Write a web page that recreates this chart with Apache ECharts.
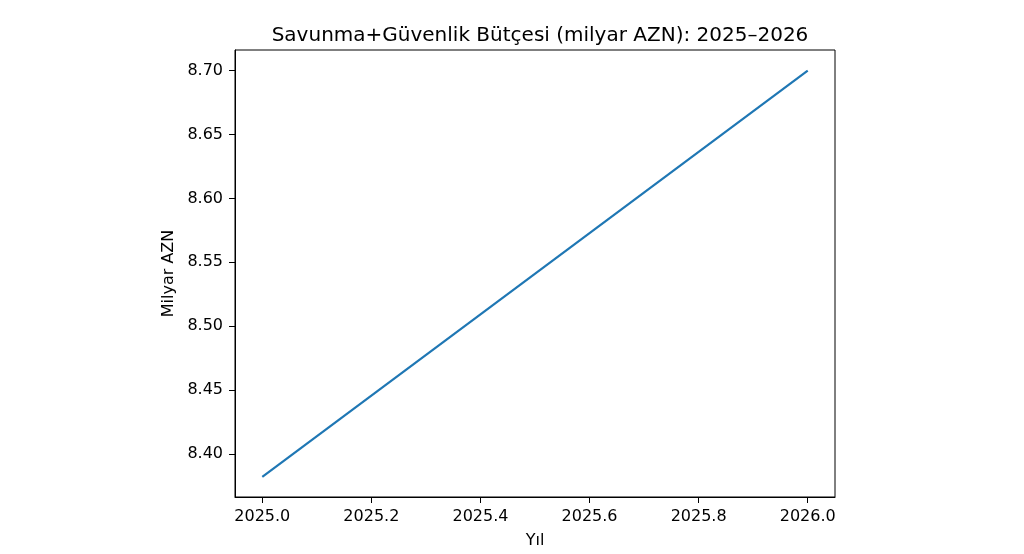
<!DOCTYPE html>
<html>
<head>
<meta charset="utf-8">
<script src="https://cdn.jsdelivr.net/npm/echarts@6/dist/echarts.min.js"></script>
<style>
  html, body { margin: 0; padding: 0; background: #fff; }
  #chart { width: 1024px; height: 554px; }
</style>
</head>
<body>
<div id="chart"></div>
<script>
// chart data
const years = [2025, 2026];
const budget = [8.382, 8.70];
const xTicks = [2025.0, 2025.2, 2025.4, 2025.6, 2025.8, 2026.0];
const yTicks = [8.40, 8.45, 8.50, 8.55, 8.60, 8.65, 8.70];

const fontFamily = '"DejaVu Sans", sans-serif';
const textColor = '#000';

const chart = echarts.init(document.getElementById('chart'));

chart.setOption({
    animation: false,
    title: {
        text: 'Savunma+Güvenlik Bütçesi (milyar AZN): 2025–2026',
        left: 535,
        top: 21,
        textAlign: 'center',
        textStyle: {
            fontFamily: fontFamily,
            fontSize: 20,
            fontWeight: 'normal',
            color: textColor
        }
    },
    grid: {
        left: 235,
        right: 189,
        top: 50,
        bottom: 57,
        show: true,
        borderColor: '#000',
        borderWidth: 1,
        containLabel: false
    },
    xAxis: {
        type: 'value',
        min: 2024.95,
        max: 2026.05,
        name: 'Yıl',
        nameLocation: 'middle',
        nameGap: 36,
        nameTextStyle: { fontFamily: fontFamily, fontSize: 16, color: textColor },
        axisLine: { show: true, lineStyle: { color: '#000', width: 1 } },
        axisTick: {
            show: true,
            length: 6,
            customValues: xTicks,
            lineStyle: { color: '#000' }
        },
        axisLabel: {
            customValues: xTicks,
            margin: 12,
            fontFamily: fontFamily,
            fontSize: 16,
            color: textColor,
            formatter: v => v.toFixed(1)
        },
        splitLine: { show: false }
    },
    yAxis: {
        type: 'value',
        min: 8.3663,
        max: 8.7162,
        name: 'Milyar AZN',
        nameLocation: 'middle',
        nameGap: 58,
        nameRotate: 90,
        nameTextStyle: { fontFamily: fontFamily, fontSize: 16, color: textColor },
        axisLine: { show: true, lineStyle: { color: '#000', width: 1 } },
        axisTick: {
            show: true,
            length: 6,
            customValues: yTicks,
            lineStyle: { color: '#000' }
        },
        axisLabel: {
            customValues: yTicks,
            margin: 12,
            fontFamily: fontFamily,
            fontSize: 16,
            color: textColor,
            formatter: v => v.toFixed(2)
        },
        splitLine: { show: false }
    },
    series: [{
        type: 'line',
        data: years.map((y, i) => [y, budget[i]]),
        showSymbol: false,
        lineStyle: { color: '#1f77b4', width: 2.2 },
        itemStyle: { color: '#1f77b4' }
    }]
});
</script>
</body>
</html>
